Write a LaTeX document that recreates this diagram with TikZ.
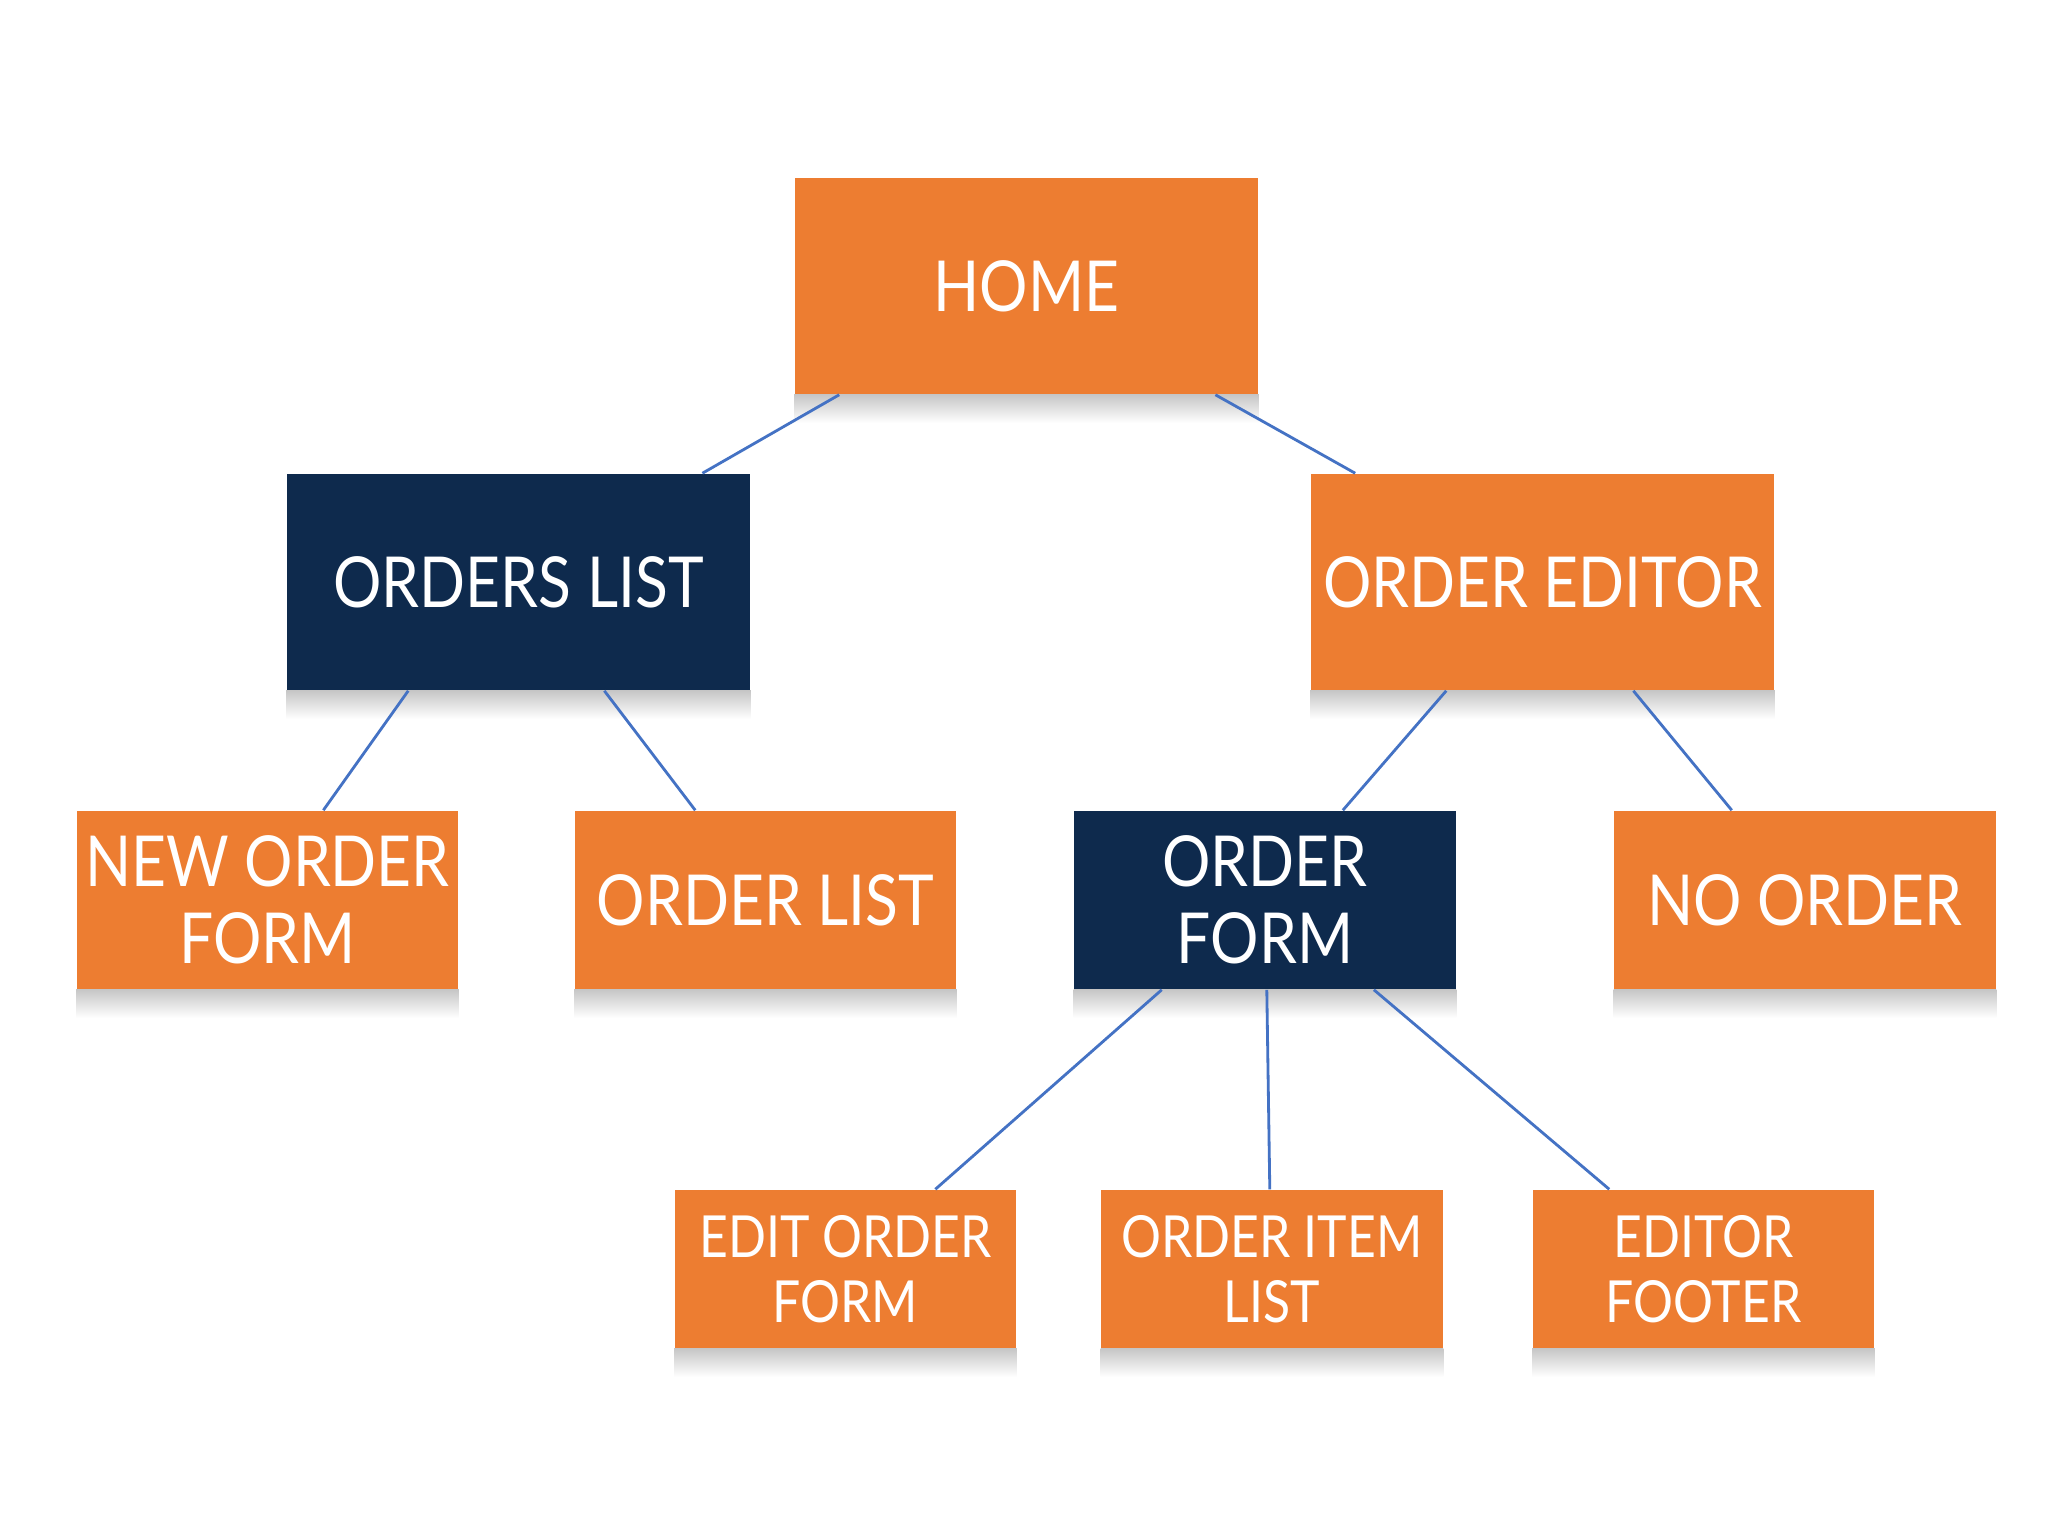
\documentclass[tikz,border=0pt]{standalone}
\usepackage{fontspec}
\setmainfont[FakeStretch=0.86]{Lato}
\usetikzlibrary{backgrounds}
\definecolor{boxorange}{HTML}{ED7D31}
\definecolor{boxnavy}{HTML}{0E2A4D}
\definecolor{linkblue}{HTML}{4472C4}
\tikzset{
  card/.style={rectangle, inner sep=0pt, text=white, align=center},
  orangecard/.style={card, fill=boxorange},
  navycard/.style={card, fill=boxnavy},
  bigcard/.style={minimum width=4.63cm, minimum height=2.16cm, font=\fontsize{20}{22}\selectfont},
  midcard/.style={minimum width=3.81cm, minimum height=1.78cm, font=\fontsize{20}{22}\selectfont},
  smallcard/.style={minimum width=3.41cm, minimum height=1.58cm, font=\fontsize{16.5}{18.5}\selectfont},
  link/.style={draw=linkblue, line width=0.8pt},
  cardshadow/.style={top color=black!22, bottom color=white, draw=none}
}
\begin{document}
\begin{tikzpicture}[x=0.01cm, y=-0.01cm]
\begin{scope}[on background layer]
\fill[white] (0,0) rectangle (2048,1536);
\end{scope}
\useasboundingbox (0,0) rectangle (2048,1536);

\node[orangecard, bigcard] (home) at (1026.5,286) {HOME};
\node[navycard, bigcard] (orderslist) at (518.5,582) {ORDERS LIST};
\node[orangecard, bigcard] (editor) at (1542.5,582) {ORDER EDITOR};

\node[orangecard, midcard] (neworder) at (267.5,900) {NEW ORDER\\FORM};
\node[orangecard, midcard] (orderlist) at (765.5,900) {ORDER LIST};
\node[navycard, midcard] (orderform) at (1265,900) {ORDER\\FORM};
\node[orangecard, midcard] (noorder) at (1805,900) {NO ORDER};

\node[orangecard, smallcard] (editform) at (845.5,1269) {EDIT ORDER\\FORM};
\node[orangecard, smallcard] (itemlist) at (1272,1269) {ORDER ITEM\\LIST};
\node[orangecard, smallcard] (footer) at (1703.5,1269) {EDITOR\\FOOTER};

\begin{scope}[on background layer]
\foreach \n in {home,orderslist,editor,neworder,orderlist,orderform,noorder,editform,itemlist,footer}
  \shade[cardshadow] (\n.south west) rectangle ([yshift=-8pt]\n.south east);
\end{scope}

\draw[link] ([xshift=0.45cm]home.south west) -- ([xshift=4.16cm]orderslist.north west);
\draw[link] ([xshift=4.21cm]home.south west) -- ([xshift=0.45cm]editor.north west);
\draw[link] ([xshift=1.22cm]orderslist.south west) -- ([xshift=2.47cm]neworder.north west);
\draw[link] ([xshift=3.18cm]orderslist.south west) -- ([xshift=1.21cm]orderlist.north west);
\draw[link] ([xshift=1.36cm]editor.south west) -- ([xshift=2.69cm]orderform.north west);
\draw[link] ([xshift=3.23cm]editor.south west) -- ([xshift=1.18cm]noorder.north west);
\draw[link] ([xshift=0.88cm]orderform.south west) -- ([xshift=2.61cm]editform.north west);
\draw[link] ([xshift=1.93cm]orderform.south west) -- ([xshift=1.69cm]itemlist.north west);
\draw[link] ([xshift=3.00cm]orderform.south west) -- ([xshift=0.77cm]footer.north west);
\end{tikzpicture}
\end{document}
